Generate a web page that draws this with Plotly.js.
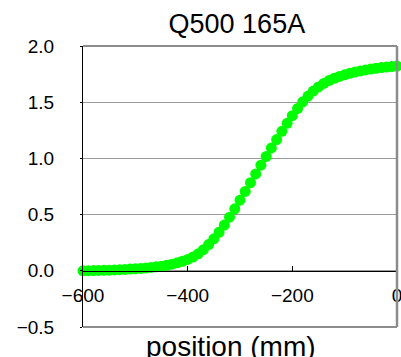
<!DOCTYPE html>
<html>
<head>
<meta charset="utf-8">
<script src="https://cdn.plot.ly/plotly-3.0.1.min.js"></script>
<style>html,body{margin:0;padding:0;background:#fff;}#chart{width:401px;height:357px;}</style>
</head>
<body>
<div id="chart"></div>
<script>
const chartTitle = "Q500 165A";
const xAxisLabel = "position (mm)";
const positions = [-600,-590,-580,-570,-560,-550,-540,-530,-520,-510,
  -500,-490,-480,-470,-460,-450,-440,-430,-420,-410,
  -400,-390,-380,-370,-360,-350,-340,-330,-320,-310,
  -300,-290,-280,-270,-260,-250,-240,-230,-220,-210,
  -200,-190,-180,-170,-160,-150,-140,-130,-120,-110,
  -100,-90,-80,-70,-60,-50,-40,-30,-20,-10,0];
const fieldValues = [0.000,0.001,0.002,0.003,0.004,0.006,0.008,0.010,0.012,0.015,
  0.018,0.021,0.025,0.030,0.035,0.041,0.049,0.059,0.071,0.085,
  0.101,0.122,0.151,0.188,0.233,0.285,0.343,0.407,0.477,0.551,
  0.628,0.706,0.784,0.862,0.940,1.017,1.093,1.168,1.241,1.312,
  1.380,1.444,1.503,1.555,1.599,1.636,1.667,1.692,1.712,1.729,
  1.744,1.757,1.768,1.778,1.787,1.795,1.802,1.808,1.813,1.817,1.821];
const xTicks = [-600,-400,-200,0];
const yTicks = [-0.5,0.0,0.5,1.0,1.5,2.0];
const yTickText = ["\u22120.5","0.0","0.5","1.0","1.5","2.0"];
const xTickText = ["\u2212600","\u2212400","\u2212200","0"];

const font = "Liberation Sans, Arial, sans-serif";
const trace = {
  x: positions, y: fieldValues, type: "scatter", mode: "lines+markers",
  line: {color: "#000080", width: 1.5},
  marker: {color: "#00ff00", size: 11, line: {width: 0}},
  cliponaxis: false, showlegend: false, hoverinfo: "none"
};
const border = "#8c8c8c";
const layout = {
  width: 401, height: 357,
  margin: {l: 83, r: 4, t: 46, b: 30},
  paper_bgcolor: "#fff", plot_bgcolor: "#fff",
  font: {family: font, color: "#000"},
  title: {text: chartTitle, font: {size: 27, family: font, color: "#000"},
    xref: "paper", x: 0.49, xanchor: "center", yref: "container", y: 0.935, yanchor: "middle"},
  xaxis: {range: [-600, 0], tickvals: xTicks, ticktext: xTickText,
    anchor: "free", position: 0.2, showline: true, linecolor: "#000", linewidth: 1,
    ticks: "inside", ticklen: 5, tickcolor: "#000", tickfont: {size: 19, family: font},
    ticklabelstandoff: 7, ticklabeloverflow: "allow", showgrid: false, zeroline: false, fixedrange: true},
  yaxis: {range: [-0.5, 2.0], tickvals: yTicks, ticktext: yTickText,
    showline: true, linecolor: "#000", linewidth: 1, ticks: "outside", ticklen: 2, tickcolor: "#000",
    tickfont: {size: 19, family: font}, ticklabelstandoff: 22,
    showgrid: true, gridcolor: "#9a9a9a", gridwidth: 1, zeroline: false, fixedrange: true},
  shapes: [
    {type: "line", xref: "paper", yref: "paper", x0: 0, x1: 1, y0: 1, y1: 1, line: {color: border, width: 2}, layer: "above"},
    {type: "line", xref: "paper", yref: "paper", x0: 1, x1: 1, y0: 0, y1: 1, line: {color: border, width: 2.5}, layer: "above"},
    {type: "line", xref: "paper", yref: "paper", x0: 0, x1: 1, y0: 0, y1: 0, line: {color: border, width: 2}, layer: "above"}
  ],
  annotations: [
    {text: xAxisLabel, xref: "paper", yref: "paper", x: 0.471, y: -0.068, xanchor: "center", yanchor: "middle",
      showarrow: false, font: {size: 28, family: font, color: "#000"}}
  ]
};
Plotly.newPlot("chart", [trace], layout, {staticPlot: true, displayModeBar: false});
</script>
</body>
</html>
